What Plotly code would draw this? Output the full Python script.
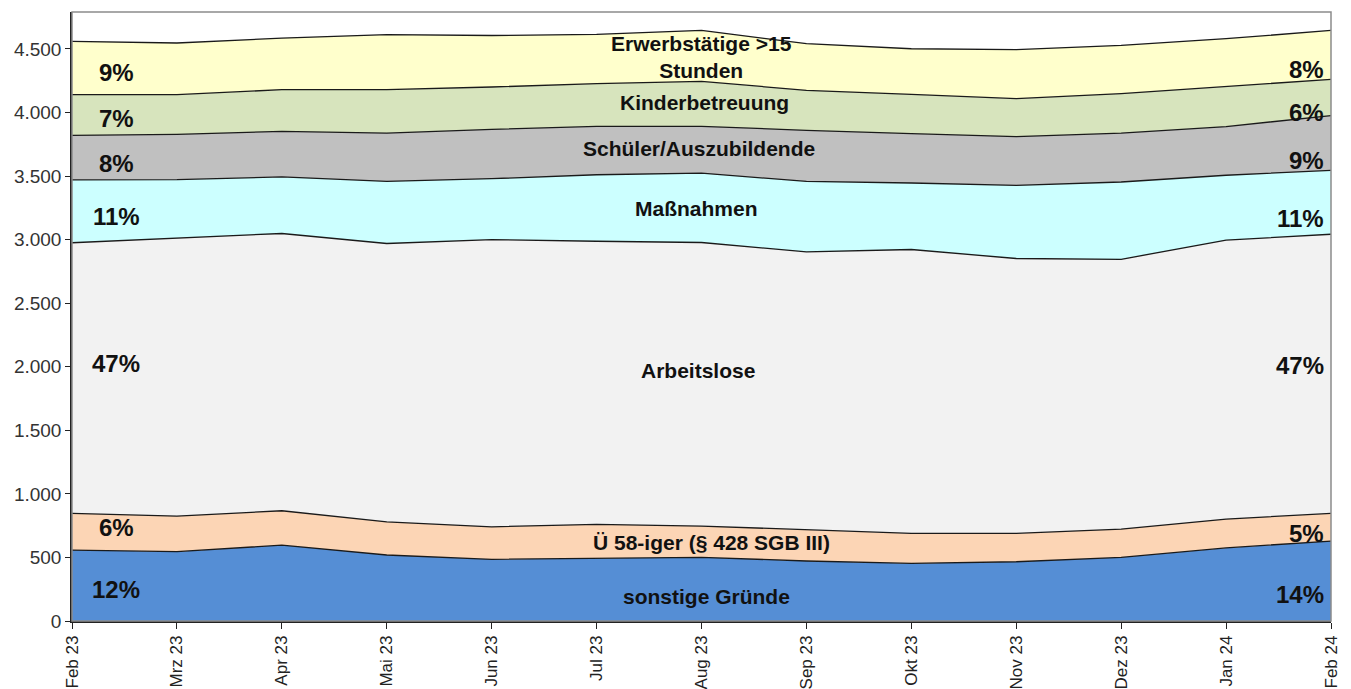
import plotly.graph_objects as go

months = ["Feb 23", "Mrz 23", "Apr 23", "Mai 23", "Jun 23", "Jul 23", "Aug 23",
          "Sep 23", "Okt 23", "Nov 23", "Dez 23", "Jan 24", "Feb 24"]

sonstige = [558, 545, 597, 519, 485, 493, 501, 472, 453, 466, 501, 575, 629]
ue58 = [289, 280, 270, 261, 256, 267, 246, 243, 236, 223, 222, 227, 218]
arbeitslose = [2128, 2188, 2181, 2189, 2259, 2227, 2230, 2188, 2233, 2162, 2122, 2193, 2195]
massnahmen = [495, 459, 445, 489, 479, 523, 545, 555, 523, 576, 608, 511, 503]
schueler = [350, 356, 358, 380, 388, 381, 369, 401, 388, 383, 385, 383, 430]
kinder = [320, 312, 328, 341, 333, 335, 353, 315, 309, 298, 310, 316, 285]
erwerb = [419, 406, 406, 433, 405, 388, 401, 367, 359, 386, 379, 375, 385]

series = [
    ("sonstige Gründe", sonstige, "#558ED5"),
    ("Ü 58-iger (§ 428 SGB III)", ue58, "#FCD5B5"),
    ("Arbeitslose", arbeitslose, "#F2F2F2"),
    ("Maßnahmen", massnahmen, "#CCFFFF"),
    ("Schüler/Auszubildende", schueler, "#C0C0C0"),
    ("Kinderbetreuung", kinder, "#D7E4BD"),
    ("Erwerbstätige >15 Stunden", erwerb, "#FFFFCC"),
]

pct_first = ["12%", "6%", "47%", "11%", "8%", "7%", "9%"]
pct_last = ["14%", "5%", "47%", "11%", "9%", "6%", "8%"]
center_labels = ["sonstige Gründe", "Ü 58-iger (§ 428 SGB III)", "Arbeitslose",
                 "Maßnahmen", "Schüler/Auszubildende", "Kinderbetreuung",
                 "Erwerbstätige >15<br>Stunden"]

y_ticks = [0, 500, 1000, 1500, 2000, 2500, 3000, 3500, 4000, 4500]
y_ticktext = ["0", "500", "1.000", "1.500", "2.000", "2.500", "3.000", "3.500", "4.000", "4.500"]

x = list(range(len(months)))
fig = go.Figure()
for name, vals, col in series:
    fig.add_trace(go.Scatter(
        x=x, y=vals, name=name, mode="lines", stackgroup="one",
        line=dict(color="#1a1a1a", width=1.3), fillcolor=col,
        hoverinfo="skip"))

# annotation positions (data coords)
left_y = [244, 739, 2028, 3183, 3600, 3953, 4315]
right_y = [212, 692, 2012, 3167, 3623, 4000, 4339]
center_y = [189, 621, 1973, 3246, 3718, 4079, 4433]
center_x = [6.05, 6.1, 5.97, 5.95, 5.98, 6.03, 6.0]

FAM = "Liberation Sans, Arial, sans-serif"
font_pct = dict(family=FAM, size=24, color="#111111")
font_lbl = dict(family=FAM, size=21, color="#111111")
anns = []
for i in range(len(series)):
    anns.append(dict(x=0.42, y=left_y[i], text="<b>%s</b>" % pct_first[i], showarrow=False,
                     font=font_pct, xanchor="center", yanchor="middle"))
    anns.append(dict(x=11.95, y=right_y[i], text="<b>%s</b>" % pct_last[i], showarrow=False,
                     font=font_pct, xanchor="right", yanchor="middle"))
    anns.append(dict(x=center_x[i], y=center_y[i], text="<b>%s</b>" % center_labels[i],
                     showarrow=False, font=font_lbl, xanchor="center", yanchor="middle"))

fig.update_layout(
    width=1343, height=681,
    margin=dict(l=64, r=20, t=4, b=68, autoexpand=False),
    paper_bgcolor="white", plot_bgcolor="white",
    showlegend=False,
    annotations=anns,
    font=dict(family=FAM, size=18, color="#222222"),
    shapes=[dict(type="rect", xref="paper", yref="paper", x0=0, y0=0, x1=1, y1=1,
                 line=dict(color="#8c8c8c", width=1.5), layer="above")],
)
fig.update_xaxes(
    range=[0, 12], tickmode="array", tickvals=x, ticktext=months, tickangle=-90,
    showgrid=False, zeroline=False, showline=True, linecolor="#222222", linewidth=1.5,
    ticks="outside", ticklen=6, tickcolor="#222222", automargin=False,
    tickfont=dict(size=17, family=FAM, color="#222222"))
fig.update_yaxes(
    range=[0, 4790], tickmode="array", tickvals=y_ticks, ticktext=y_ticktext,
    showgrid=False, zeroline=False, showline=True, linecolor="#222222", linewidth=1.5,
    ticks="outside", ticklen=5, tickcolor="#222222", automargin=False,
    tickfont=dict(size=19, family=FAM, color="#333333"))

fig.write_html("out.html")
